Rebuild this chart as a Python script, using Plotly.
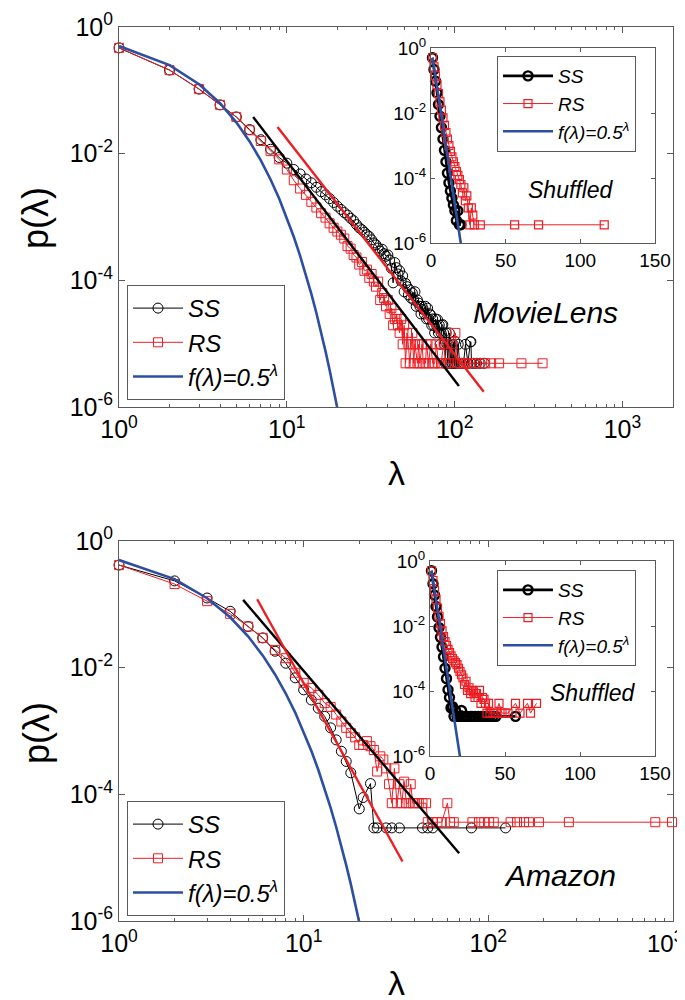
import numpy as np
import plotly.graph_objects as go

# ---------------- data (lambda values and log10 p(lambda)) ----------------
# MovieLens, main panel
ml_ss_lambda = list(range(1, 102)) + [103, 105, 107, 110, 113, 116, 120, 124, 125, 126, 130, 135, 142, 150]
ml_ss_log10p = [-0.33, -0.68, -0.98, -1.23, -1.42, -1.62, -1.78, -1.93, -2.06, -2.15,
                -2.25, -2.32, -2.40, -2.46, -2.53, -2.60, -2.65, -2.71, -2.77, -2.83,
                -2.88, -2.93, -2.97, -3.02, -3.06, -3.12, -3.17, -3.20, -3.24, -3.28,
                -3.31, -3.36, -3.41, -3.44, -3.49, -3.54, -3.51, -3.58, -3.62, -3.60,
                -3.68, -3.81, -4.04, -3.72, -3.80, -3.90, -3.85, -4.01, -3.93, -4.18,
                -4.05, -4.10, -4.23, -4.15, -4.28, -4.20, -4.31, -4.18, -4.41, -4.31,
                -4.36, -4.41, -4.53, -4.41, -4.46, -4.53, -4.41, -4.61, -4.44, -4.61,
                -4.53, -4.55, -4.71, -4.61, -4.71, -4.83, -4.61, -4.71, -4.62, -4.83,
                -4.71, -5.01, -4.83, -4.71, -4.70, -4.83, -5.01, -5.31, -4.83, -5.01,
                -5.31, -5.01, -4.83, -5.31, -5.01, -5.31, -5.31, -5.01, -5.31, -4.96, -5.31,
                -5.31, -5.01, -5.31, -5.31, -5.31, -5.01, -5.31, -4.97, -4.97, -5.31, -5.31, -5.31, -5.31, -5.31]

ml_rs_lambda = list(range(1, 59)) + [60, 61, 62, 64, 65, 67, 68, 70, 72, 74, 76, 78, 80, 83, 86, 89, 92, 96,
                                     101, 104, 108, 113, 118, 124, 131, 140, 152, 165, 184, 250, 334]
ml_rs_log10p = [-0.33, -0.68, -0.98, -1.23, -1.42, -1.63, -1.80, -1.96, -2.09, -2.25,
                -2.42, -2.55, -2.65, -2.76, -2.85, -2.94, -3.01, -3.10, -3.17, -3.23,
                -3.28, -3.34, -3.46, -3.50, -3.60, -3.64, -3.75, -3.71, -3.85, -3.83,
                -3.96, -3.90, -4.02, -4.10, -4.02, -4.31, -4.20, -4.28, -4.41, -4.31,
                -4.53, -4.44, -4.71, -4.61, -4.53, -4.71, -4.83, -4.61, -5.01, -4.71,
                -5.31, -4.83, -5.01, -5.31, -5.01, -4.83, -5.31, -5.01,
                -5.31, -5.01, -5.31, -5.01, -5.31, -5.31, -5.01, -5.31, -5.01, -5.31, -5.31, -5.01, -5.31, -5.31, -5.01, -5.31, -5.31, -5.01,
                -4.83, -5.31, -5.31, -5.31, -5.31, -5.31, -5.31, -5.31, -5.31, -5.31, -5.31, -5.31, -5.31]

ml_ss_fit_lambda = [6.3, 106]
ml_ss_fit_log10p = [-1.42, -5.67]
ml_rs_fit_lambda = [8.8, 149]
ml_rs_fit_log10p = [-1.58, -5.76]

# MovieLens, shuffled (inset)
mls_ss_lambda = list(range(1, 21))
mls_ss_log10p = [-0.30, -0.66, -1.02, -1.38, -1.74, -2.10, -2.45, -2.80, -3.15, -3.50,
                 -3.85, -4.15, -4.40, -4.62, -4.83, -5.01, -5.31, -5.01, -5.44, -5.44]
mls_rs_lambda = list(range(1, 29)) + [29, 33, 56, 72, 116]
mls_rs_log10p = [-0.30, -0.58, -0.86, -1.13, -1.40, -1.66, -1.91, -2.15, -2.38, -2.60,
                 -2.80, -3.00, -3.18, -3.35, -3.50, -3.65, -3.80, -3.92, -4.05, -4.20,
                 -4.46, -4.30, -4.70, -4.55, -4.92, -5.44, -4.92, -5.14,
                 -5.44, -5.44, -5.44, -5.44, -5.44]

# Amazon, main panel
am_ss_lambda = list(range(1, 19)) + [20, 21, 23, 24, 25, 28, 30, 33, 44, 47, 50, 81, 124]
am_ss_log10p = [-0.38, -0.63, -0.90, -1.11, -1.35, -1.53, -1.74, -1.93, -2.16, -2.35,
                -2.51, -2.64, -2.77, -2.95, -3.14, -3.32, -3.48, -3.66,
                -4.23, -4.05, -3.83, -4.53, -4.53, -4.53, -4.53, -4.53, -4.53, -4.53, -4.53, -4.53, -4.53]

am_rs_lambda = list(range(1, 41)) + [42, 44, 46, 47, 50, 53, 56, 60, 62, 65, 82, 89, 95, 101, 107,
                                     132, 143, 156, 166, 188, 273, 802, 988]
am_rs_log10p = [-0.38, -0.68, -0.95, -1.15, -1.35, -1.53, -1.72, -1.85, -2.08, -2.24,
                -2.32, -2.43, -2.56, -2.62, -2.74, -2.85, -2.95, -3.03, -3.10, -3.22,
                -3.22, -3.16, -3.24, -3.30, -3.64, -3.40, -3.45, -3.59, -3.84, -4.14,
                -3.59, -4.14, -3.84, -4.14, -3.80, -4.14, -4.14, -3.84, -4.14, -4.14,
                -4.14, -4.14, -4.14, -4.44, -4.44, -4.44, -4.44, -4.14, -4.44, -4.44, -4.44, -4.44, -4.44, -4.44, -4.44,
                -4.44, -4.44, -4.44, -4.44, -4.44, -4.44, -4.44, -4.44]

am_ss_fit_lambda = [4.7, 69.5]
am_ss_fit_log10p = [-0.93, -4.93]
am_rs_fit_lambda = [5.6, 34.3]
am_rs_fit_log10p = [-0.92, -5.06]

# Amazon, shuffled (inset)
ams_ss_lambda = list(range(1, 23)) + [24, 25, 27, 28, 30, 32, 34, 36, 38, 40, 42, 44, 57]
ams_ss_log10p = [-0.30, -0.70, -1.05, -1.40, -1.72, -2.05, -2.35, -2.65, -2.95, -3.30,
                 -3.62, -3.96, -4.20, -4.52, -4.48, -4.78, -4.60, -4.78, -4.78, -4.78,
                 -4.60, -4.78, -4.78, -4.78, -4.78, -4.78, -4.78, -4.78, -4.78, -4.78,
                 -4.78, -4.78, -4.78, -4.78, -4.78]
ams_rs_lambda = list(range(1, 41)) + [42, 44, 46, 48, 50, 52, 57, 60, 65, 67, 71]
ams_rs_log10p = [-0.30, -0.60, -0.90, -1.18, -1.45, -1.70, -1.93, -2.15, -2.33, -2.48,
                 -2.60, -2.72, -2.82, -2.92, -3.00, -3.07, -3.13, -3.19, -3.30, -3.40,
                 -3.50, -3.60, -3.80, -3.70, -3.98, -3.90, -4.08, -3.98, -4.03, -4.20,
                 -4.08, -4.20, -3.98, -4.38, -4.20, -4.26, -4.38, -4.68, -4.38, -4.68,
                 -4.68, -4.68, -4.38, -4.68, -4.68, -4.68, -4.38, -4.68, -4.38, -4.68, -4.38]

# reference curve f(lambda) = 0.5^lambda, evaluated at integer lambda
f_lambda = list(range(1, 21))

# tick labels
log_x_ticks = [1, 10, 100, 1000]
log_x_ticktext = ["10<sup>0</sup>", "10<sup>1</sup>", "10<sup>2</sup>", "10<sup>3</sup>"]
# bottom panel: the 10^3 label sits at the right page edge, drawn as a separate text nudged inside
log_x_ticktext_edge = ["10<sup>0</sup>", "10<sup>1</sup>", "10<sup>2</sup>", ""]
log_y_ticks = [1, 1e-2, 1e-4, 1e-6]
log_y_ticktext = ["10<sup>0</sup>", "10<sup>-2</sup>", "10<sup>-4</sup>", "10<sup>-6</sup>"]
lin_x_ticks = [0, 50, 100, 150]
lin_x_ticktext = ["0", "50", "100", "150"]

# ---------------- styling ----------------
FONT = "Liberation Sans, Arial, sans-serif"
BLACK = "#000000"
RED = "#ee1d23"
BLUE = "#2d4fa1"
FRAME = "#5a5a5a"
W, H = 685, 1000


def pv(logs):
    return [10 ** v for v in logs]


f_values = [0.5 ** l for l in f_lambda]
F_NAME = "<i>f(λ)=0.5<sup>λ</sup></i>"

fig = go.Figure()


def add_main(ss_l, ss_p, rs_l, rs_p, ssf_l, ssf_p, rsf_l, rsf_p, xa, ya, leg):
    fig.add_trace(go.Scatter(x=ss_l, y=pv(ss_p), mode="lines+markers", name="<i>SS</i>",
                             line=dict(color=BLACK, width=1),
                             marker=dict(symbol="circle-open", size=10, color=BLACK, line=dict(width=1)),
                             xaxis=xa, yaxis=ya, legend=leg, cliponaxis=False))
    fig.add_trace(go.Scatter(x=rs_l, y=pv(rs_p), mode="lines+markers", name="<i>RS</i>",
                             line=dict(color=RED, width=1),
                             marker=dict(symbol="square-open", size=9, color=RED, line=dict(width=1)),
                             xaxis=xa, yaxis=ya, legend=leg, cliponaxis=False))
    fig.add_trace(go.Scatter(x=f_lambda, y=f_values, mode="lines", name=F_NAME,
                             line=dict(color=BLUE, width=2.6),
                             xaxis=xa, yaxis=ya, legend=leg))
    fig.add_trace(go.Scatter(x=ssf_l, y=pv(ssf_p), mode="lines", showlegend=False,
                             line=dict(color=BLACK, width=2.4), xaxis=xa, yaxis=ya))
    fig.add_trace(go.Scatter(x=rsf_l, y=pv(rsf_p), mode="lines", showlegend=False,
                             line=dict(color=RED, width=2.4), xaxis=xa, yaxis=ya))


def add_inset(ss_l, ss_p, rs_l, rs_p, xa, ya, leg):
    fig.add_trace(go.Scatter(x=ss_l, y=pv(ss_p), mode="lines+markers", name="<i>SS</i>",
                             line=dict(color=BLACK, width=2.6),
                             marker=dict(symbol="circle-open", size=9, color=BLACK, line=dict(width=2.4)),
                             xaxis=xa, yaxis=ya, legend=leg, cliponaxis=False))
    fig.add_trace(go.Scatter(x=rs_l, y=pv(rs_p), mode="lines+markers", name="<i>RS</i>",
                             line=dict(color=RED, width=1),
                             marker=dict(symbol="square-open", size=8, color=RED, line=dict(width=1.2)),
                             xaxis=xa, yaxis=ya, legend=leg, cliponaxis=False))
    fig.add_trace(go.Scatter(x=f_lambda, y=f_values, mode="lines", name=F_NAME,
                             line=dict(color=BLUE, width=2.6),
                             xaxis=xa, yaxis=ya, legend=leg))


add_main(ml_ss_lambda, ml_ss_log10p, ml_rs_lambda, ml_rs_log10p,
         ml_ss_fit_lambda, ml_ss_fit_log10p, ml_rs_fit_lambda, ml_rs_fit_log10p, "x", "y", "legend")
add_inset(mls_ss_lambda, mls_ss_log10p, mls_rs_lambda, mls_rs_log10p, "x2", "y2", "legend2")
add_main(am_ss_lambda, am_ss_log10p, am_rs_lambda, am_rs_log10p,
         am_ss_fit_lambda, am_ss_fit_log10p, am_rs_fit_lambda, am_rs_fit_log10p, "x3", "y3", "legend3")
add_inset(ams_ss_lambda, ams_ss_log10p, ams_rs_lambda, ams_rs_log10p, "x4", "y4", "legend4")


def dom_x(a, b):
    return [a / W, b / W]


def dom_y(top, bottom):
    return [1 - bottom / H, 1 - top / H]


def minor_log(xmax):
    vals = []
    for d in [1, 10, 100, 1000]:
        for k in range(2, 10):
            if d * k < xmax:
                vals.append(d * k)
    return vals


axis_common = dict(showline=True, linecolor=FRAME, linewidth=1, mirror="ticks", ticks="inside",
                   tickcolor=FRAME, showgrid=False, zeroline=False, tickmode="array", automargin=False)

main_font = dict(family=FONT, size=25, color="black")
inset_font = dict(family=FONT, size=19, color="black")

layout_axes = {}
layout_axes["xaxis"] = dict(axis_common, type="log", range=[0, np.log10(2000)], domain=dom_x(111, 665),
                            anchor="y", tickvals=log_x_ticks, ticktext=log_x_ticktext, ticklen=6,
                            tickfont=main_font,
                            minor=dict(ticks="inside", ticklen=3, tickcolor=FRAME, tickmode="array",
                                       tickvals=minor_log(2000)))
layout_axes["yaxis"] = dict(axis_common, type="log", range=[-6, 0], domain=dom_y(19, 399), anchor="x",
                            tickvals=log_y_ticks, ticktext=log_y_ticktext, ticklen=6, tickfont=main_font)
layout_axes["xaxis2"] = dict(axis_common, type="linear", range=[0, 150], domain=dom_x(423, 647), anchor="y2",
                             tickvals=lin_x_ticks, ticktext=lin_x_ticktext, ticklen=4, tickfont=inset_font)
layout_axes["yaxis2"] = dict(axis_common, type="log", range=[-6, 0], domain=dom_y(40, 235), anchor="x2",
                             tickvals=log_y_ticks, ticktext=log_y_ticktext, ticklen=4, tickfont=inset_font)
layout_axes["xaxis3"] = dict(axis_common, type="log", range=[0, 3], domain=dom_x(111, 665), anchor="y3",
                             tickvals=log_x_ticks, ticktext=log_x_ticktext_edge, ticklen=6, tickfont=main_font,
                             minor=dict(ticks="inside", ticklen=3, tickcolor=FRAME, tickmode="array",
                                        tickvals=minor_log(1000)))
layout_axes["yaxis3"] = dict(axis_common, type="log", range=[-6, 0], domain=dom_y(533, 913), anchor="x3",
                             tickvals=log_y_ticks, ticktext=log_y_ticktext, ticklen=6, tickfont=main_font)
layout_axes["xaxis4"] = dict(axis_common, type="linear", range=[0, 150], domain=dom_x(422, 647), anchor="y4",
                             tickvals=lin_x_ticks, ticktext=lin_x_ticktext, ticklen=4, tickfont=inset_font)
layout_axes["yaxis4"] = dict(axis_common, type="log", range=[-6, 0], domain=dom_y(553, 748), anchor="x4",
                             tickvals=log_y_ticks, ticktext=log_y_ticktext, ticklen=4, tickfont=inset_font)


def legend_at(left, top, size, itemwidth):
    return dict(x=left / W, y=1 - top / H, xanchor="left", yanchor="top", bgcolor="white",
                bordercolor=FRAME, borderwidth=1, font=dict(family=FONT, size=size, color="black"),
                itemwidth=itemwidth, tracegroupgap=0, itemclick=False)


annotations = []


def text(x, y, s, size, italic=False, angle=0, xanchor="center"):
    annotations.append(dict(x=x / W, y=1 - y / H, xref="paper", yref="paper", text=(f"<i>{s}</i>" if italic else s),
                            showarrow=False, xanchor=xanchor, yanchor="middle", textangle=angle,
                            font=dict(family=FONT, size=size, color="black")))


text(537, 305, "MovieLens", 30, italic=True)
text(563, 182, "Shuffled", 23, italic=True)
text(552, 867, "Amazon", 30, italic=True)
text(585, 685, "Shuffled", 23, italic=True)
text(388, 465, "λ", 34)
text(388, 975, "λ", 34)
text(28, 210, "p(λ)", 36, angle=-90)
text(28, 725, "p(λ)", 36, angle=-90)
# 10^3 tick label of the bottom panel, nudged left so it stays inside the page
text(657, 934, log_x_ticktext[3], 24, xanchor="center")

fig.update_layout(
    width=W, height=H, margin=dict(l=0, r=0, t=0, b=0, autoexpand=False),
    paper_bgcolor="white", plot_bgcolor="white",
    font=dict(family=FONT, color="black"),
    legend=legend_at(119, 277, 24, 50),
    legend2=legend_at(489, 48, 19, 50),
    legend3=legend_at(119, 793, 24, 50),
    legend4=legend_at(489, 562, 19, 50),
    annotations=annotations,
    **layout_axes,
)

fig.write_html("out.html")
